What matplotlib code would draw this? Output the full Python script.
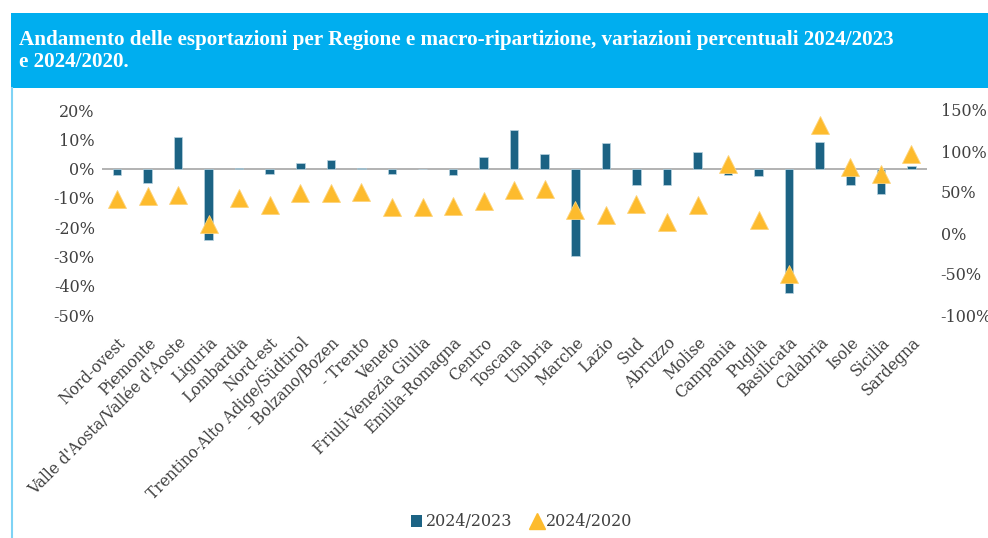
import numpy as np
import matplotlib
matplotlib.use("Agg")
import matplotlib.pyplot as plt
from matplotlib.patches import Rectangle, Patch
from matplotlib.lines import Line2D

# ---- data ----
regioni = ["Nord-ovest", "Piemonte", "Valle d'Aosta/Vallée d'Aoste", "Liguria",
           "Lombardia", "Nord-est", "Trentino-Alto Adige/Südtirol", "- Bolzano/Bozen",
           "- Trento", "Veneto", "Friuli-Venezia Giulia", "Emilia-Romagna", "Centro",
           "Toscana", "Umbria", "Marche", "Lazio", "Sud", "Abruzzo", "Molise",
           "Campania", "Puglia", "Basilicata", "Calabria", "Isole", "Sicilia", "Sardegna"]
var_2024_2023 = [-2.2, -4.9, 10.7, -24.3, 0.2, -1.7, 1.9, 2.8, 0.1, -1.7, -0.1, -2.2, 3.9,
                 13.3, 5.0, -29.9, 8.7, -5.5, -5.5, 5.5, -2.2, -2.7, -42.5, 9.1, -5.5, -8.6, 0.8]
var_2024_2020 = [41, 44.8, 46.7, 11.4, 43, 33.6, 48.8, 48.8, 50.2, 32, 32, 33, 39,
                 52.2, 54, 28, 22.5, 35.6, 13.4, 33.6, 84, 16.4, -50, 132, 80, 72.5, 96.3]

col_bar = "#1c6384"
col_tri = "#fdbb2d"
col_txt = "#404040"
plt.rcParams['font.family'] = ["DejaVu Serif"]

fig = plt.figure(figsize=(9.88, 5.38), dpi=100)

# header band
fig.patches.append(Rectangle((11 / 988, 1 - 88 / 538), 1, 75 / 538, transform=fig.transFigure,
                             facecolor="#00aeef", edgecolor="none", zorder=0))
fig.add_artist(Line2D([11.5 / 988, 11.5 / 988], [0, 1 - 88 / 538], transform=fig.transFigure,
                      color="#7fd3f5", lw=1.5))
title_font = ["Liberation Serif", "DejaVu Serif"]
fig.text(19 / 988, 1 - 40 / 538, "Andamento delle esportazioni per Regione e macro-ripartizione, variazioni percentuali 2024/2023",
         color="white", fontsize=15.2, fontweight="bold", va="center", ha="left", family=title_font)
fig.text(19 / 988, 1 - 62 / 538, "e 2024/2020.",
         color="white", fontsize=15.2, fontweight="bold", va="center", ha="left", family=title_font)

ax = fig.add_axes([101.7 / 988, 1 - 315 / 538, 825 / 988, 205 / 538])
x = np.arange(len(regioni))
ax.bar(x, var_2024_2023, width=0.28, color=col_bar, edgecolor="#b9d3e0", linewidth=0.5, zorder=3)
ax.axhline(0, color="#a6a6a6", lw=1.2, zorder=2)
ax.set_xlim(-0.5, len(regioni) - 0.5)
ax.set_ylim(-50, 20)
ax.set_yticks(np.arange(-50, 21, 10))
ax.set_yticklabels([f"{v}%" for v in range(-50, 21, 10)])
ax.set_xticks(x)
ax.set_xticklabels(regioni, rotation=45, ha="right", rotation_mode="anchor")
ax.tick_params(axis="y", length=0, labelsize=11.5, labelcolor=col_txt, pad=5)
ax.tick_params(axis="x", length=0, labelsize=11.2, labelcolor=col_txt, pad=14)
for s in ax.spines.values():
    s.set_visible(False)

ax2 = ax.twinx()
ax2.plot(x, var_2024_2020, linestyle="none", marker="^", markersize=13,
         color=col_tri, markeredgecolor="#fdd37a", markeredgewidth=0.6, zorder=4)
ax2.set_ylim(-100, 150)
ax2.set_yticks(np.arange(-100, 151, 50))
ax2.set_yticklabels([f"{v}%" for v in range(-100, 151, 50)])
ax2.tick_params(axis="y", length=0, labelsize=11.5, labelcolor=col_txt, pad=10)
for s in ax2.spines.values():
    s.set_visible(False)

handles = [Patch(facecolor=col_bar, edgecolor="none"),
           Line2D([], [], linestyle="none", marker="^", markersize=11, color=col_tri)]
leg = fig.legend(handles, ["2024/2023", "2024/2020"], loc="center",
                 bbox_to_anchor=(0.528, 1 - 522 / 538), ncol=2, frameon=False,
                 fontsize=11.5, handlelength=0.7, handleheight=0.7, handletextpad=0.2,
                 columnspacing=1.2)
for t in leg.get_texts():
    t.set_color(col_txt)

fig.savefig("out.png", dpi=100)
